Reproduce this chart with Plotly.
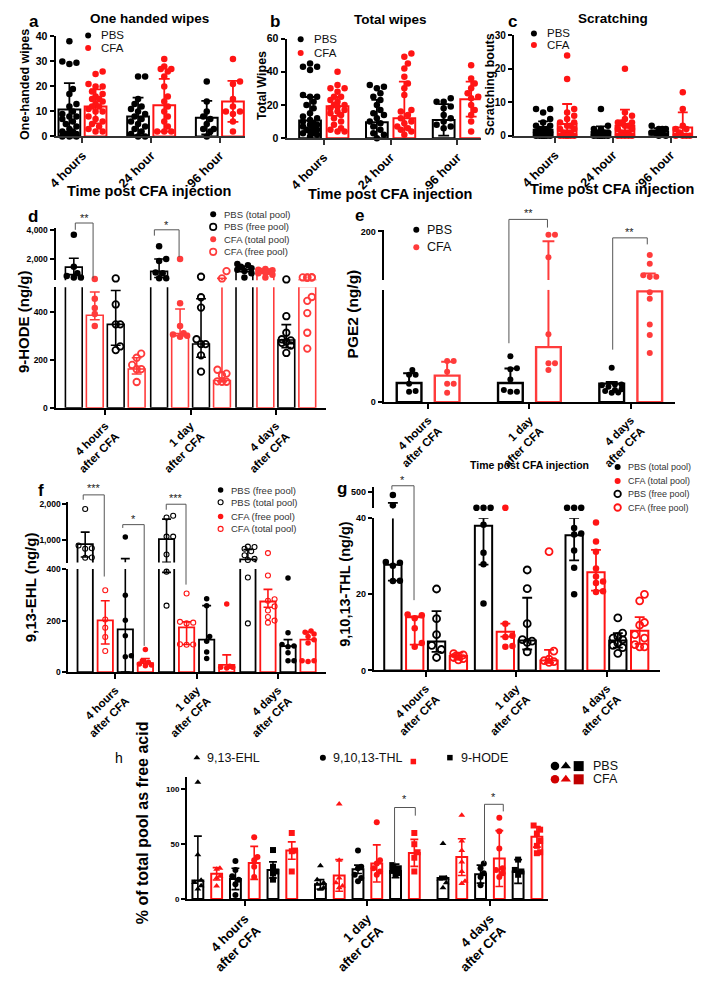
import plotly.graph_objects as go

# page has an 8px body margin: figure occupies (8,8)-(697,975) of the 705x984 window
OFF = 8
FW, FH = 689, 967
FONT = "Arial, Liberation Sans, Helvetica, sans-serif"
BLACK = "#000000"
RED = "#ff1414"
RED2 = "#ff3b3b"

# ------------------------------------------------------------------ data
GROUPS_ABC = ["4 hours", "24 hour", "96 hour"]
GROUPS_LIPID = ["4 hours<br>after CFA", "1 day<br>after CFA", "4 days<br>after CFA"]

# a  One handed wipes
A_PBS_MEAN = [10.8, 8.0, 7.5]
A_PBS_SD = [10.5, 7.5, 6.7]
A_CFA_MEAN = [12.0, 12.5, 14.0]
A_CFA_SD = [6.8, 10.5, 8.2]
A_PBS_PTS = [[38, 30, 29.5, 29, 19, 17, 13, 12, 10, 9, 8, 8, 7, 6, 5, 4, 3, 2, 2, 1, 1, 1, 0.5, 0, 0, 0],
             [24, 24, 15, 13, 12, 11, 10, 9, 8, 7, 6, 5, 4, 3, 2, 1, 0, 0],
             [22, 14, 10, 8, 7, 5, 3, 3, 2, 0]]
A_CFA_PTS = [[26, 25, 21, 20, 20, 18, 17, 16, 15, 15, 14, 13, 12, 12, 11, 10, 10, 8, 7, 6, 5, 4, 3, 2, 2],
             [31, 28, 27, 27, 26, 24, 20, 16, 14, 12, 10, 8, 6, 4, 2, 2, 2],
             [31, 22, 21, 15, 12, 10, 10, 9, 6, 2]]

# b  Total wipes
B_PBS_MEAN = [10.7, 9.5, 11.0]
B_PBS_SD = [14.1, 13.5, 9.5]
B_CFA_MEAN = [19.2, 12.0, 23.5]
B_CFA_SD = [5.8, 22.0, 10.5]
B_PBS_PTS = [[45, 43, 43, 41, 26, 25, 25, 22, 20, 18, 15, 13, 12, 11, 10, 9, 8, 8, 7, 6, 5, 5, 4, 3, 3, 2, 1],
             [32, 31, 30, 27, 25, 23, 20, 17, 15, 14, 12, 10, 9, 7, 5, 3, 2, 0],
             [24, 22, 22, 19, 18, 14, 12, 10, 8, 7, 6]]
B_CFA_PTS = [[40, 32, 30, 30, 28, 25, 25, 23, 22, 20, 20, 19, 18, 17, 16, 15, 14, 12, 10, 8, 6, 5, 4, 4],
             [51, 49, 45, 42, 37, 33, 30, 26, 17, 16, 14, 12, 10, 9, 7, 6, 5, 4, 2],
             [44, 36, 33, 30, 27, 25, 24, 20, 17, 14, 10, 4]]

# c  Scratching
C_PBS_MEAN = [1.8, 1.1, 1.2]
C_PBS_SD = [2.5, 1.7, 1.1]
C_CFA_MEAN = [3.5, 3.0, 2.5]
C_CFA_SD = [6.0, 4.8, 4.5]
C_PBS_PTS = [[8, 8, 7, 5, 4, 3, 3, 2, 2, 2, 1, 1, 1, 1, 1, 0, 0, 0, 0, 0, 0, 0, 0, 0, 0],
             [8, 3, 2, 2, 1, 1, 1, 1, 0, 0, 0, 0, 0, 0, 0, 0, 0, 0],
             [3, 2, 2, 2, 1, 1, 1, 1, 0, 0]]
C_CFA_PTS = [[24, 17, 8, 7, 6, 5, 4, 4, 3, 3, 2, 2, 1, 1, 1, 0, 0, 0, 0, 0, 0, 0],
             [20, 7, 6, 5, 4, 4, 4, 3, 3, 2, 2, 1, 1, 1, 0, 0, 0, 0, 0],
             [13, 8, 3, 2, 2, 1, 0, 0, 0, 0]]

# d  9-HODE (bar, lower / upper whisker)
D_PBS_TOTAL_BAR = [1430, 1130, 1250]
D_PBS_TOTAL_LO = [900, 700, 1100]
D_PBS_TOTAL_HI = [2050, 2000, 1500]
D_CFA_TOTAL_BAR = [385, 309, 1160]
D_CFA_TOTAL_LO = [366, 300, 1050]
D_CFA_TOTAL_HI = [482, 411, 1300]
D_PBS_FREE_BAR = [347, 265, 282]
D_PBS_FREE_LO = [260, 210, 250]
D_PBS_FREE_HI = [488, 454, 346]
D_CFA_FREE_BAR = [161, 113, 505]
D_CFA_FREE_LO = [140, 108, 505]
D_CFA_FREE_HI = [208, 640, 505]
D_PBS_TOTAL_PTS = [[3700, 1450, 1000, 800, 700, 700],
                   [2900, 2000, 1850, 1050, 1000, 650, 650],
                   [1650, 1550, 1450, 1350, 1250, 1150, 1000, 700]]
D_CFA_TOTAL_PTS = [[600, 454, 415, 390, 340],
                   [2000, 435, 340, 310, 305, 300, 295],
                   [1300, 1250, 1200, 1150, 1100, 1050, 1000, 900, 700]]
D_PBS_FREE_PTS = [[630, 430, 347, 347, 255, 240],
                  [750, 460, 417, 285, 265, 265, 218, 150],
                  [560, 381, 312, 285, 280, 275, 270, 259, 228]]
D_CFA_FREE_PTS = [[225, 208, 178, 161, 160, 107],
                  [1150, 630, 158, 142, 135, 110, 108, 108],
                  [720, 700, 700, 690, 680, 461, 445, 394, 312, 246]]

# e  PGE2
E_PBS_BAR = [23.7, 23.7, 23.0]
E_PBS_HI = [35.8, 41.8, 25.0]
E_CFA_BAR = [33.0, 68.4, 137.6]
E_CFA_HI = [50.3, 187.9, 147.6]
E_PBS_PTS = [[40, 34, 34, 23, 13.7, 12.9],
             [57, 42, 41, 28, 15, 13, 13],
             [42.7, 22, 22, 21, 19, 16, 15, 14, 12, 11.7]]
E_CFA_PTS = [[51, 51, 37.8, 23, 23, 11.7],
             [196, 196, 167.8, 84.5, 48.3, 48.3, 39.8],
             [170.6, 159.7, 145.6, 143.6, 143.6, 136.4, 128.4, 96.6, 83.3, 61.2]]

# f  9,13-EHL
F_PBS_TOTAL_BAR = [892, 1027, 468]
F_PBS_TOTAL_LO = [532, 387, 468]
F_PBS_TOTAL_HI = [1225, 1586, 739]
F_CFA_TOTAL_BAR = [201, 174, 274]
F_CFA_TOTAL_LO = [109, 107, 252]
F_CFA_TOTAL_HI = [277, 195, 321]
F_PBS_FREE_BAR = [166, 126, 101]
F_PBS_FREE_LO = [0, 126, 101]
F_PBS_FREE_HI = [486, 258, 126]
F_CFA_FREE_BAR = [35, 28, 126]
F_CFA_FREE_LO = [35, 28, 126]
F_CFA_FREE_HI = [53, 67, 157]
F_PBS_TOTAL_PTS = [[1865, 850, 775, 760, 520, 510],
                   [1680, 1630, 1100, 1100, 600, 390, 258],
                   [820, 810, 760, 690, 580, 480, 450, 367, 189]]
F_CFA_TOTAL_PTS = [[318, 204, 172, 136, 82],
                   [305, 195, 192, 189, 108, 107, 106],
                   [640, 375, 283, 277, 255, 239, 214, 200, 192]]
F_PBS_FREE_PTS = [[1090, 298, 201, 141, 63, 60],
                  [285, 258, 138, 120, 78, 53],
                  [365, 153, 107, 101, 98, 75, 44, 44]]
F_CFA_FREE_PTS = [[88, 44, 38, 31, 28, 25],
                  [264, 23, 19, 19, 16],
                  [160, 155, 148, 138, 126, 113, 44, 44, 41]]

# g  9,10,13-THL
G_PBS_TOTAL_BAR = [27.8, 38.0, 35.5]
G_PBS_TOTAL_LO = [23.6, 27.8, 28.9]
G_PBS_TOTAL_HI = [198, 40.0, 40.0]
G_CFA_TOTAL_BAR = [14.0, 10.2, 25.8]
G_CFA_TOTAL_LO = [6.8, 8.9, 21.0]
G_CFA_TOTAL_HI = [14.2, 12.3, 31.7]
G_PBS_FREE_BAR = [7.6, 7.9, 7.9]
G_PBS_FREE_LO = [4.9, 5.5, 6.0]
G_PBS_FREE_HI = [15.6, 19.1, 9.8]
G_CFA_FREE_BAR = [3.8, 2.6, 10.4]
G_CFA_FREE_LO = [3.0, 2.0, 7.0]
G_CFA_FREE_HI = [4.7, 5.4, 14.0]
G_PBS_TOTAL_PTS = [[426, 135, 28.5, 28.3, 27.5, 23.6, 23.5],
                   [60, 60, 60, 38.3, 30.9, 27.9, 17.6],
                   [60, 60, 60, 37.4, 36, 35.7, 31.5, 27, 20]]
G_CFA_TOTAL_PTS = [[14.7, 14.5, 13.7, 11.1, 7.2, 6.2],
                   [60, 12.3, 9.1, 8.8, 6.4, 6.2],
                   [38.9, 33.9, 31.2, 26.8, 24.7, 23.4, 23, 20.8, 20.6]]
G_PBS_FREE_PTS = [[21.4, 13.6, 9.4, 6.6, 5.5, 3.4],
                  [26.4, 21.5, 12.3, 8.1, 7.7, 7.4, 4.9],
                  [13.8, 9.8, 8.9, 8.5, 8.1, 7.2, 6.6, 6, 4.5]]
G_CFA_FREE_PTS = [[4.4, 4.1, 3.7, 3.4, 3.1, 2.8],
                  [31.2, 5.1, 3.0, 2.6, 2.3, 2.1],
                  [20, 18.3, 12.6, 11.9, 9.4, 8.5, 6.8, 6.2, 6.2]]

# h  % of total pool as free acid
H_PBS_EHL_MEAN = [16.7, 13.2, 19.0]
H_PBS_EHL_SD = [40.3, 4.3, 1.5]
H_CFA_EHL_MEAN = [22.8, 21.3, 38.0]
H_CFA_EHL_SD = [5.6, 14.4, 16.7]
H_PBS_THL_MEAN = [18.1, 26.9, 22.5]
H_PBS_THL_SD = [9.7, 3.8, 8.2]
H_CFA_THL_MEAN = [32.7, 32.2, 36.6]
H_CFA_THL_SD = [15.0, 16.9, 25.4]
H_PBS_HODE_MEAN = [26.3, 25.4, 24.9]
H_PBS_HODE_SD = [7.3, 6.2, 10.8]
H_CFA_HODE_MEAN = [43.9, 41.8, 56.4]
H_CFA_HODE_SD = [7.9, 12.3, 9.4]
H_PBS_EHL_PTS = [[106, 40, 17, 15, 12, 9], [30.1, 17.5, 14.6, 13.2, 10.2, 8.8], [50.3, 19, 18, 14.6, 10.2]]
H_CFA_EHL_PTS = [[27.8, 26.9, 20.5, 19, 11.7], [86.3, 35.1, 19, 14.6, 11.7, 10.2], [76, 52.6, 43.9, 33.6, 24.9, 16.1, 14]]
H_PBS_THL_PTS = [[34.5, 26.3, 20.5, 17.5, 13.2, 3.5], [43.9, 29.2, 27.8, 21.9, 19, 16.1], [32.2, 27.8, 23.4, 19.9, 12.3]]
H_CFA_THL_PTS = [[56.1, 38, 35.1, 29.2, 19.9], [69.6, 35.1, 32.2, 27.8, 24.9, 21.9], [73.7, 61.4, 45.9, 27.8, 26.3, 23.4, 19.9]]
H_PBS_HODE_PTS = [[44.4, 29.2, 24.9, 23.4, 17.5], [30.7, 27.8, 25.4, 23.4, 21.9], [35.7, 26.3, 24.9, 21.9]]
H_CFA_HODE_PTS = [[59.9, 43.9, 43.3, 24.9], [59.9, 49.7, 42.4, 37.4, 24.9], [66.7, 62.9, 59.4, 52.6, 48.2, 42.4, 41.5]]

# ------------------------------------------------------------------ helpers
fig = go.Figure()
layout = {}
annots = []
_ax = [0]
CX, CY = "x99", "y99"


def dx(px):
    return (px - OFF) / FW


def dy(py):
    return 1 - (py - OFF) / FH


def new_id():
    _ax[0] += 1
    return _ax[0]


def names(i):
    if i == 1:
        return "xaxis", "yaxis", "x", "y"
    return f"xaxis{i}", f"yaxis{i}", f"x{i}", f"y{i}"


def swarm(pys, diam, maxoff):
    n = len(pys)
    offs = [0.0] * n
    placed = []
    step = diam * 0.55
    cands = [0.0]
    k = 1
    while k * step <= maxoff + 1e-9:
        cands += [k * step, -k * step]
        k += 1
    for i in sorted(range(n), key=lambda j: -pys[j]):
        best, bestd = 0.0, -1.0
        for c in cands:
            dmin = min([((c - ox) ** 2 + (pys[i] - oy) ** 2) ** 0.5 for ox, oy in placed] or [1e9])
            if dmin >= diam * 0.95:
                best = c
                break
            if dmin > bestd:
                best, bestd = c, dmin
        offs[i] = best
        placed.append((best, pys[i]))
    return offs


def mean_sd(series_mean, series_sd):
    lo = [m - s for m, s in zip(series_mean, series_sd)]
    hi = [m + s for m, s in zip(series_mean, series_sd)]
    return lo, hi


def ser(bar, lo, hi, pts, color, sym="circle", msize=6.5, mline=0, ecolor=None):
    return dict(bar=bar, lo=lo, hi=hi, pts=pts, color=color, sym=sym, msize=msize,
                mline=mline, ecolor=ecolor or color)


def panel(xpx, segs, series, ticktext, geo, xtick_size, ytick_size, axis_color="black"):
    L, R = xpx
    S = len(series)
    G = len(ticktext)
    c0, bp, gp, bw, cap = geo["c0"], geo["bp"], geo["gp"], geo["bw"], geo["cap"]

    def cx(s, g):
        return c0 - L + g * gp + s * bp

    tickpos = [c0 - L + g * gp + (S - 1) * bp / 2 for g in range(G)]
    refs = []
    for k, seg in enumerate(segs):
        i = new_id()
        xa, ya, xr, yr = names(i)
        top, bot = seg["py"]
        layout[xa] = dict(domain=[dx(L), min(1, dx(R))], range=[0, R - L], anchor=yr, visible=(k == 0),
                          showline=True, linecolor=axis_color, linewidth=geo.get("aw", 2),
                          ticks="outside", ticklen=5, tickwidth=1.5, tickcolor=axis_color,
                          tickvals=tickpos, ticktext=ticktext, tickangle=-45,
                          tickfont=dict(family=FONT, size=xtick_size, color="black", weight="bold"),
                          showgrid=False, zeroline=False, fixedrange=True)
        layout[ya] = dict(domain=[dy(bot), dy(top)], range=list(seg["rng"]), anchor=xr,
                          showline=True, linecolor="black", linewidth=geo.get("aw", 2),
                          ticks="outside", ticklen=4, tickwidth=1.5, tickcolor="black",
                          tickvals=seg["tv"], ticktext=seg["tt"],
                          tickfont=dict(family=FONT, size=ytick_size, color="black", weight="bold"),
                          showgrid=False, zeroline=False, fixedrange=True)
        refs.append((xr, yr))
    # bars (only those reaching into the segment)
    for k, (xr, yr) in enumerate(refs):
        rlo, rhi = segs[k]["rng"]
        base = 0 if k == 0 else rlo - 0.1 * (rhi - rlo)
        for s, se in enumerate(series):
            xs = [cx(s, g) for g in range(G) if se["bar"][g] > rlo]
            ys = [se["bar"][g] - base for g in range(G) if se["bar"][g] > rlo]
            if xs:
                fig.add_trace(go.Bar(x=xs, y=ys, base=base, width=bw,
                                     marker=dict(color="white", line=dict(color=se["color"], width=geo["lw"])),
                                     xaxis=xr, yaxis=yr, hoverinfo="skip"))
    # error bars, clipped to each segment
    for k, (xr, yr) in enumerate(refs):
        rlo, rhi = segs[k]["rng"]
        for s, se in enumerate(series):
            xs, ys = [], []
            for g in range(G):
                c = cx(s, g)
                lo, hi, b = se["lo"][g], se["hi"][g], se["bar"][g]
                a0, a1 = max(min(lo, b), rlo), min(hi, rhi)
                if a1 > a0:
                    xs += [c, c, None]
                    ys += [a0, a1, None]
                for yc, show in ((hi, hi > b), (lo, lo < b)):
                    if show and rlo <= yc <= rhi:
                        xs += [c - cap, c + cap, None]
                        ys += [yc, yc, None]
            if xs:
                fig.add_trace(go.Scatter(x=xs, y=ys, mode="lines",
                                         line=dict(color=se["ecolor"], width=geo["ew"]),
                                         xaxis=xr, yaxis=yr, hoverinfo="skip"))

    def seg_of(v):
        for k, seg in enumerate(segs):
            if seg["rng"][0] <= v <= seg["rng"][1]:
                return k
        dists = [min(abs(v - seg["rng"][0]), abs(v - seg["rng"][1])) for seg in segs]
        return dists.index(min(dists))

    def to_py(v, k):
        top, bot = segs[k]["py"]
        lo, hi = segs[k]["rng"]
        return bot - (v - lo) / (hi - lo) * (bot - top)

    # points
    for s, se in enumerate(series):
        px_ = [[] for _ in segs]
        py_ = [[] for _ in segs]
        for g in range(G):
            vals = se["pts"][g]
            ks = [seg_of(v) for v in vals]
            pys = [to_py(v, k) for v, k in zip(vals, ks)]
            offs = swarm(pys, se["msize"] + se["mline"], bw / 2 - 1)
            for v, k, o in zip(vals, ks, offs):
                px_[k].append(cx(s, g) + o)
                py_[k].append(v)
        for k, (xr, yr) in enumerate(refs):
            if not px_[k]:
                continue
            if se["mline"] > 0:
                mk = dict(symbol=se["sym"] + "-open", size=se["msize"], color=se["color"],
                          line=dict(width=se["mline"], color=se["color"]))
            else:
                mk = dict(symbol=se["sym"], size=se["msize"], color=se["color"], line=dict(width=0))
            fig.add_trace(go.Scatter(x=px_[k], y=py_[k], mode="markers", marker=mk, cliponaxis=False,
                                     xaxis=xr, yaxis=yr, hoverinfo="skip"))


def ann(x, y, text, size, bold=False, anchor="center", angle=0, color="black"):
    annots.append(dict(x=x, y=y, xref=CX, yref=CY, text=text, showarrow=False, xanchor=anchor,
                       yanchor="middle", textangle=angle,
                       font=dict(family=FONT, size=size, color=color, weight="bold" if bold else "normal")))


def cline(pts, color="#555555", width=1):
    fig.add_trace(go.Scatter(x=[p[0] for p in pts], y=[p[1] for p in pts], mode="lines",
                             line=dict(color=color, width=width), xaxis=CX, yaxis=CY,
                             hoverinfo="skip", cliponaxis=False))


def cmark(x, y, color, sym="circle", size=6.5, open_=False, lw=1.5):
    if open_:
        mk = dict(symbol=sym + "-open", size=size, color=color, line=dict(width=lw, color=color))
    else:
        mk = dict(symbol=sym, size=size, color=color, line=dict(width=0))
    fig.add_trace(go.Scatter(x=[x], y=[y], mode="markers", marker=mk, xaxis=CX, yaxis=CY,
                             hoverinfo="skip", cliponaxis=False))


def bracket(x1, y1, x2, y2, ytop, label, ty):
    cline([(x1, y1), (x1, ytop), (x2, ytop), (x2, y2)])
    ann((x1 + x2) / 2, ty, label, 11, color="#222222")


# ------------------------------------------------------------------ panels a, b, c
geo_abc = dict(lw=2, ew=1.8, aw=2)
a_lo1, a_hi1 = mean_sd(A_PBS_MEAN, A_PBS_SD)
a_lo2, a_hi2 = mean_sd(A_CFA_MEAN, A_CFA_SD)
panel((48, 240), [dict(py=(31, 134), rng=(0, 40), tv=[0, 10, 20, 30, 40], tt=["0", "10", "20", "30", "40"])],
      [ser(A_PBS_MEAN, a_lo1, a_hi1, A_PBS_PTS, BLACK), ser(A_CFA_MEAN, a_lo2, a_hi2, A_CFA_PTS, RED)],
      GROUPS_ABC, dict(geo_abc, c0=62, bp=26.5, gp=69.5, bw=22, cap=5.5), 12.5, 10.5, "#333333")

b_lo1, b_hi1 = mean_sd(B_PBS_MEAN, B_PBS_SD)
b_lo2, b_hi2 = mean_sd(B_CFA_MEAN, B_CFA_SD)
panel((281.7, 478), [dict(py=(33.3, 135.7), rng=(0, 60), tv=[0, 20, 40, 60], tt=["0", "20", "40", "60"])],
      [ser(B_PBS_MEAN, b_lo1, b_hi1, B_PBS_PTS, BLACK), ser(B_CFA_MEAN, b_lo2, b_hi2, B_CFA_PTS, RED)],
      GROUPS_ABC, dict(geo_abc, c0=305.5, bp=27.8, gp=67.6, bw=22, cap=5.5), 12.5, 10.5, "#333333")

c_lo1, c_hi1 = mean_sd(C_PBS_MEAN, C_PBS_SD)
c_lo2, c_hi2 = mean_sd(C_CFA_MEAN, C_CFA_SD)
panel((511.7, 697), [dict(py=(30, 133.3), rng=(0, 30), tv=[0, 10, 20, 30], tt=["0", "10", "20", "30"])],
      [ser(C_PBS_MEAN, c_lo1, c_hi1, C_PBS_PTS, BLACK), ser(C_CFA_MEAN, c_lo2, c_hi2, C_CFA_PTS, RED)],
      GROUPS_ABC, dict(geo_abc, c0=541.3, bp=24.3, gp=58.5, bw=19, cap=5), 12.5, 10, "#333333")

# ------------------------------------------------------------------ panel d
panel((48, 322),
      [dict(py=(289, 413), rng=(0, 502), tv=[0, 200, 400], tt=["0", "200", "400"]),
       dict(py=(228.3, 282), rng=(498, 4164), tv=[2000, 4000], tt=["2,000", "4,000"])],
      [ser(D_PBS_TOTAL_BAR, D_PBS_TOTAL_LO, D_PBS_TOTAL_HI, D_PBS_TOTAL_PTS, BLACK, msize=6.5),
       ser(D_CFA_TOTAL_BAR, D_CFA_TOTAL_LO, D_CFA_TOTAL_HI, D_CFA_TOTAL_PTS, RED2, msize=6.5),
       ser(D_PBS_FREE_BAR, D_PBS_FREE_LO, D_PBS_FREE_HI, D_PBS_FREE_PTS, BLACK, msize=6.5, mline=1.8),
       ser(D_CFA_FREE_BAR, D_CFA_FREE_LO, D_CFA_FREE_HI, D_CFA_FREE_PTS, RED2, msize=6.5, mline=1.8)],
      GROUPS_LIPID, dict(c0=66.5, bp=21.2, gp=86.3, bw=17, cap=5, lw=1.6, ew=1.6, aw=2), 11.5, 8.5)

# ------------------------------------------------------------------ panel e
panel((380, 675),
      [dict(py=(291.7, 407.3), rng=(0, 139.6), tv=[0], tt=["0"]),
       dict(py=(230, 281.7), rng=(139.6, 202), tv=[200], tt=["200"])],
      [ser(E_PBS_BAR, E_PBS_BAR, E_PBS_HI, E_PBS_PTS, BLACK, msize=6),
       ser(E_CFA_BAR, E_CFA_BAR, E_CFA_HI, E_CFA_PTS, RED2, msize=6)],
      GROUPS_LIPID, dict(c0=405.7, bp=38.5, gp=102.5, bw=25, cap=6, lw=2.4, ew=2, aw=2), 11.5, 9)

# ------------------------------------------------------------------ panel f
panel((61, 322),
      [dict(py=(579, 685), rng=(0, 400), tv=[0, 200, 400], tt=["0", "200", "400"]),
       dict(py=(510, 572.3), rng=(378, 2062), tv=[1000, 2000], tt=["1,000", "2,000"])],
      [ser(F_PBS_TOTAL_BAR, F_PBS_TOTAL_LO, F_PBS_TOTAL_HI, F_PBS_TOTAL_PTS, BLACK, msize=5, mline=1.1),
       ser(F_CFA_TOTAL_BAR, F_CFA_TOTAL_LO, F_CFA_TOTAL_HI, F_CFA_TOTAL_PTS, RED, msize=5, mline=1.1),
       ser(F_PBS_FREE_BAR, F_PBS_FREE_LO, F_PBS_FREE_HI, F_PBS_FREE_PTS, BLACK, msize=5.5),
       ser(F_CFA_FREE_BAR, F_CFA_FREE_LO, F_CFA_FREE_HI, F_CFA_FREE_PTS, RED, msize=5.5)],
      GROUPS_LIPID, dict(c0=78, bp=20.3, gp=82.3, bw=15.5, cap=4.5, lw=1.8, ew=1.6, aw=2), 11.5, 8.5)

# ------------------------------------------------------------------ panel g
panel((370, 660),
      [dict(py=(526.7, 683.3), rng=(0, 40), tv=[0, 20, 40], tt=["0", "20", "40"]),
       dict(py=(495, 516.7), rng=(42, 637), tv=[500], tt=["500"])],
      [ser(G_PBS_TOTAL_BAR, G_PBS_TOTAL_LO, G_PBS_TOTAL_HI, G_PBS_TOTAL_PTS, BLACK, msize=6.5),
       ser(G_CFA_TOTAL_BAR, G_CFA_TOTAL_LO, G_CFA_TOTAL_HI, G_CFA_TOTAL_PTS, RED, msize=6.5),
       ser(G_PBS_FREE_BAR, G_PBS_FREE_LO, G_PBS_FREE_HI, G_PBS_FREE_PTS, BLACK, msize=7, mline=1.8),
       ser(G_CFA_FREE_BAR, G_CFA_FREE_LO, G_CFA_FREE_HI, G_CFA_FREE_PTS, RED, msize=7, mline=1.8)],
      GROUPS_LIPID, dict(c0=389.3, bp=22.1, gp=91.7, bw=17.5, cap=5, lw=2, ew=1.8, aw=2), 11.5, 9)

# ------------------------------------------------------------------ panel h
h_sets = [(H_PBS_EHL_MEAN, H_PBS_EHL_SD, H_PBS_EHL_PTS, BLACK, "triangle-up"),
          (H_CFA_EHL_MEAN, H_CFA_EHL_SD, H_CFA_EHL_PTS, RED, "triangle-up"),
          (H_PBS_THL_MEAN, H_PBS_THL_SD, H_PBS_THL_PTS, BLACK, "circle"),
          (H_CFA_THL_MEAN, H_CFA_THL_SD, H_CFA_THL_PTS, RED, "circle"),
          (H_PBS_HODE_MEAN, H_PBS_HODE_SD, H_PBS_HODE_PTS, BLACK, "square"),
          (H_CFA_HODE_MEAN, H_CFA_HODE_SD, H_CFA_HODE_PTS, RED, "square")]
h_series = []
for m, sd, pts, col, sym in h_sets:
    lo, hi = mean_sd(m, sd)
    h_series.append(ser(m, lo, hi, pts, col, sym=sym, msize=6))
panel((181, 546),
      [dict(py=(793, 918.3), rng=(0, 110.7), tv=[0, 50, 100], tt=["0", "50", "100"]),
       dict(py=(773, 789), rng=(115, 225), tv=[200], tt=["200"])],
      h_series, GROUPS_LIPID, dict(c0=192, bp=19, gp=124, bw=11, cap=4, lw=2, ew=1.6, aw=2), 13, 8)

# ------------------------------------------------------------------ decorations
for x, y, t in [(26, 16, "a"), (270, 16, "b"), (510, 16, "c"), (25, 216, "d"), (356, 215, "e"),
                (33, 498, "f"), (338, 496, "g")]:
    ann(x, y, t, 17, bold=True)
ann(112, 773, "h", 14)

ann(143, 13, "One handed wipes", 13.5, bold=True)
ann(387, 14, "Total wipes", 13.5, bold=True)
ann(612, 13, "Scratching", 13.5, bold=True)

ann(142.5, 190, "Time post CFA injection", 14.5, bold=True)
ann(386, 193, "Time post CFA injection", 14.5, bold=True)
ann(611, 188, "Time post CFA injection", 14.5, bold=True)
ann(527.5, 472, "Time post CFA injection", 10.5, bold=True)

ann(17, 80, "One-handed wipes", 12.5, bold=True, angle=-90)
ann(257, 82, "Total Wipes", 12.5, bold=True, angle=-90)
ann(488, 80, "Scratching bouts", 12.5, bold=True, angle=-90)
ann(15, 324, "9-HODE (ng/g)", 15, bold=True, angle=-90)
ann(348, 317, "PGE2 (ng/g)", 15.5, bold=True, angle=-90)
ann(23, 598, "9,13-EHL (ng/g)", 15, bold=True, angle=-90)
ann(340, 594, "9,10,13-THL (ng/g)", 14.5, bold=True, angle=-90)
ann(136, 840, "% of total pool as free acid", 16, bold=True, angle=-90)

for (mx, y1, y2) in [(81, 30, 43), (296, 34, 48), (532, 28, 40)]:
    cmark(mx, y1, BLACK, size=6)
    cmark(mx, y2, RED, size=6)
    ann(mx + 11, y1, "PBS", 11.5, anchor="left", color="#111111")
    ann(mx + 11, y2, "CFA", 11.5, anchor="left", color="#111111")

for y, lab, col, op in [(214, "PBS (total pool)", BLACK, False), (227, "PBS (free pool)", BLACK, True),
                        (239.7, "CFA (total pool)", RED2, False), (252.7, "CFA (free pool)", RED2, True)]:
    cmark(207.5, y, col, size=6 if not op else 6.5, open_=op, lw=1.6)
    ann(216, y, lab, 9.5, anchor="left", color="#333333")

cmark(413, 230, BLACK, size=6)
cmark(413, 248, RED2, size=6)
ann(422, 230, "PBS", 12.5, anchor="left", color="#111111")
ann(422, 248, "CFA", 12.5, anchor="left", color="#111111")

for y, lab, col, op in [(497.7, "PBS (free pool)", BLACK, False), (510.3, "PBS (total pool)", BLACK, True),
                        (525, "CFA (free pool)", RED, False), (537.7, "CFA (total pool)", RED, True)]:
    cmark(215, y, col, size=5.5 if not op else 5, open_=op, lw=1.1)
    ann(223, y, lab, 9.5, anchor="left", color="#333333")

for y, lab, col, op in [(474, "PBS (total pool)", BLACK, False), (488.3, "CFA (total pool)", RED, False),
                        (501.7, "PBS (free pool)", BLACK, True), (515.7, "CFA (free pool)", RED, True)]:
    cmark(616.7, y, col, size=6 if not op else 6.5, open_=op, lw=1.8)
    ann(625, y, lab, 9, anchor="left", color="#333333")

cmark(191, 773, BLACK, sym="triangle-up", size=6)
ann(199, 773, "9,13-EHL", 12.5, anchor="left", color="#111111")
cmark(318.5, 773, BLACK, size=6)
ann(327, 773, "9,10,13-THL", 12.5, anchor="left", color="#111111")
cmark(410, 777, RED, sym="square", size=5.5)
cmark(447, 773, BLACK, sym="square", size=5.5)
ann(456, 773, "9-HODE", 12.5, anchor="left", color="#111111")
cmark(553.3, 781.7, BLACK, size=8.5)
cmark(564.3, 781.7, BLACK, sym="triangle-up", size=9)
cmark(577.3, 781.7, BLACK, sym="square", size=10)
cmark(553.3, 795.3, "#d00000", size=8.5)
cmark(564.3, 795.3, "#e00000", sym="triangle-up", size=9)
cmark(577.3, 795.3, "#c00000", sym="square", size=10)
ann(590, 781.7, "PBS", 12.5, anchor="left", color="#111111")
ann(590, 795.3, "CFA", 12.5, anchor="left", color="#111111")

bracket(68, 230, 86, 280, 223, "**", 218)
bracket(148, 236, 173, 258, 230, "*", 225)
bracket(506.7, 346.7, 545.7, 227.7, 219.3, "**", 213)
bracket(611.7, 353.3, 646.7, 245, 238.3, "**", 232)
bracket(76, 507.7, 97.3, 586.7, 502.7, "***", 496)
bracket(116, 536.7, 137.7, 658, 533.3, "*", 527)
bracket(160, 518, 180, 595, 512.3, "***", 506)
bracket(388.3, 497.3, 410.7, 611, 493.3, "*", 487)
bracket(391, 881.7, 412, 832.7, 824.3, "*", 816)
bracket(482, 881, 501, 828.3, 821, "*", 813)

# canvas axis in window-pixel coordinates
layout["xaxis99"] = dict(domain=[0, 1], range=[OFF, OFF + FW], visible=False, fixedrange=True, anchor="y99")
layout["yaxis99"] = dict(domain=[0, 1], range=[OFF + FH, OFF], visible=False, fixedrange=True, anchor="x99")

fig.update_layout(width=FW, height=FH, margin=dict(l=0, r=0, t=0, b=0, pad=0),
                  paper_bgcolor="white", plot_bgcolor="rgba(0,0,0,0)", showlegend=False,
                  barmode="overlay", hovermode=False, font=dict(family=FONT, color="black"),
                  annotations=annots, **layout)
fig.write_html("out.html")
